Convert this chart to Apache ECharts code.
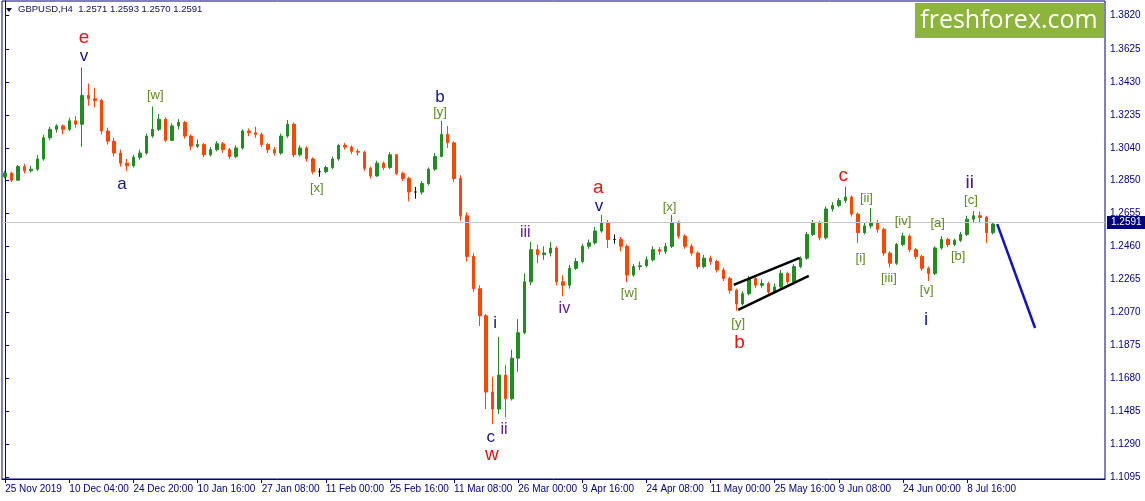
<!DOCTYPE html>
<html><head><meta charset="utf-8">
<script src="https://cdn.jsdelivr.net/npm/echarts@6/dist/echarts.min.js"></script>
<style>html,body{margin:0;padding:0;background:#fff}#c{width:1145px;height:501px}</style>
</head><body><div id="c"></div>
<script>
// ---- data ----
const xTickLabels = ['25 Nov 2019','10 Dec 04:00','24 Dec 20:00','10 Jan 16:00','27 Jan 08:00','11 Feb 00:00','25 Feb 16:00','11 Mar 08:00','26 Mar 00:00','9 Apr 16:00','24 Apr 08:00','11 May 00:00','25 May 16:00','9 Jun 08:00','24 Jun 00:00','8 Jul 16:00'];
const priceTicks = [1.1095,1.1290,1.1485,1.1680,1.1875,1.2070,1.2265,1.2460,1.2655,1.2850,1.3040,1.3235,1.3430,1.3625,1.3820];
const opens = [1.2870,1.2892,1.2850,1.2930,1.2905,1.2915,1.2975,1.3100,1.3150,1.3170,
1.3150,1.3200,1.3180,1.3350,1.3330,1.3320,1.3140,1.3080,1.3010,1.2950,
1.2935,1.2985,1.3010,1.3110,1.3150,1.3210,1.3085,1.3170,1.3190,1.3110,
1.3050,1.3060,1.3000,1.3030,1.3065,1.3030,1.2990,1.3040,1.3140,1.3130,
1.3120,1.3060,1.3030,1.3010,1.3110,1.3180,1.3000,1.3040,1.2975,1.2900,
1.2900,1.2925,1.2975,1.3055,1.3045,1.3020,1.3015,1.2920,1.2875,1.2950,
1.2925,1.3000,1.2890,1.2860,1.2780,1.2780,1.2830,1.2915,1.2990,1.3120,
1.3070,1.2860,1.2640,1.2400,1.2210,1.2050,1.1600,1.1500,1.1700,1.1560,
1.1800,1.1950,1.2250,1.2440,1.2410,1.2420,1.2450,1.2250,1.2230,1.2330,
1.2370,1.2460,1.2480,1.2550,1.2600,1.2500,1.2500,1.2460,1.2290,1.2340,
1.2345,1.2380,1.2440,1.2430,1.2460,1.2600,1.2520,1.2460,1.2420,1.2340,
1.2390,1.2370,1.2320,1.2270,1.2200,1.2120,1.2180,1.2270,1.2230,1.2240,
1.2190,1.2220,1.2300,1.2250,1.2340,1.2390,1.2530,1.2600,1.2510,1.2680,
1.2700,1.2730,1.2750,1.2650,1.2540,1.2580,1.2600,1.2560,1.2420,1.2360,
1.2470,1.2520,1.2440,1.2400,1.2330,1.2300,1.2450,1.2500,1.2470,1.2495,
1.2530,1.2620,1.2640,1.2630,1.2540];
const closes = [1.2892,1.2850,1.2930,1.2905,1.2915,1.2975,1.3100,1.3150,1.3170,1.3150,
1.3200,1.3180,1.3350,1.3330,1.3320,1.3140,1.3080,1.3010,1.2950,1.2935,
1.2985,1.3010,1.3110,1.3150,1.3210,1.3085,1.3170,1.3190,1.3110,1.3050,
1.3060,1.3000,1.3030,1.3065,1.3030,1.2990,1.3040,1.3140,1.3130,1.3120,
1.3060,1.3030,1.3010,1.3110,1.3180,1.3000,1.3040,1.2975,1.2900,1.2900,
1.2925,1.2975,1.3055,1.3045,1.3020,1.3015,1.2920,1.2875,1.2950,1.2925,
1.3000,1.2890,1.2860,1.2780,1.2780,1.2830,1.2915,1.2990,1.3120,1.3070,
1.2860,1.2640,1.2400,1.2210,1.2050,1.1600,1.1500,1.1700,1.1560,1.1800,
1.1950,1.2250,1.2440,1.2410,1.2420,1.2450,1.2250,1.2230,1.2330,1.2370,
1.2460,1.2480,1.2550,1.2600,1.2500,1.2500,1.2460,1.2290,1.2340,1.2345,
1.2380,1.2440,1.2430,1.2460,1.2600,1.2520,1.2460,1.2420,1.2340,1.2390,
1.2370,1.2320,1.2270,1.2200,1.2120,1.2180,1.2270,1.2230,1.2240,1.2190,
1.2220,1.2300,1.2250,1.2340,1.2390,1.2530,1.2600,1.2510,1.2680,1.2700,
1.2730,1.2750,1.2650,1.2540,1.2580,1.2600,1.2560,1.2420,1.2360,1.2470,
1.2520,1.2440,1.2400,1.2330,1.2300,1.2450,1.2500,1.2470,1.2495,1.2530,
1.2620,1.2640,1.2630,1.2540,1.2591];
const lows = [1.2860,1.2838,1.2845,1.2890,1.2895,1.2905,1.2965,1.3085,1.3130,1.3120,
1.3140,1.3160,1.3047,1.3290,1.3280,1.3120,1.3060,1.2990,1.2930,1.2905,
1.2925,1.2970,1.3000,1.3100,1.3140,1.3075,1.3080,1.3150,1.3095,1.3028,
1.3040,1.2985,1.2990,1.3020,1.3010,1.2975,1.2980,1.3030,1.3110,1.3100,
1.3045,1.3010,1.2995,1.3000,1.3100,1.2985,1.2990,1.2960,1.2885,1.2870,
1.2890,1.2915,1.2965,1.3030,1.3005,1.2995,1.2905,1.2860,1.2870,1.2910,
1.2915,1.2880,1.2845,1.2725,1.2740,1.2765,1.2820,1.2905,1.2985,1.3040,
1.2840,1.2610,1.2370,1.2190,1.1990,1.1500,1.1410,1.1470,1.1450,1.1550,
1.1720,1.1940,1.2230,1.2360,1.2380,1.2400,1.2230,1.2165,1.2210,1.2320,
1.2360,1.2445,1.2470,1.2540,1.2450,1.2475,1.2430,1.2250,1.2280,1.2320,
1.2335,1.2370,1.2410,1.2415,1.2450,1.2505,1.2445,1.2405,1.2325,1.2330,
1.2350,1.2305,1.2255,1.2180,1.2080,1.2110,1.2170,1.2215,1.2215,1.2170,
1.2180,1.2210,1.2235,1.2240,1.2330,1.2380,1.2520,1.2495,1.2500,1.2665,
1.2690,1.2715,1.2635,1.2480,1.2530,1.2565,1.2540,1.2405,1.2335,1.2350,
1.2460,1.2425,1.2385,1.2315,1.2255,1.2290,1.2440,1.2455,1.2460,1.2485,
1.2520,1.2600,1.2595,1.2480,1.2530];
const highs = [1.2905,1.2900,1.2940,1.2945,1.2935,1.2998,1.3118,1.3165,1.3180,1.3178,
1.3218,1.3228,1.3515,1.3420,1.3395,1.3330,1.3160,1.3100,1.3030,1.2975,
1.3000,1.3030,1.3125,1.3285,1.3240,1.3220,1.3185,1.3210,1.3200,1.3120,
1.3090,1.3070,1.3045,1.3080,1.3075,1.3040,1.3055,1.3150,1.3155,1.3165,
1.3130,1.3070,1.3045,1.3125,1.3205,1.3190,1.3055,1.3050,1.2985,1.2920,
1.2935,1.2990,1.3065,1.3070,1.3055,1.3035,1.3025,1.2930,1.2965,1.2960,
1.3015,1.3005,1.2900,1.2870,1.2810,1.2845,1.2925,1.3010,1.3200,1.3170,
1.3080,1.2880,1.2660,1.2420,1.2230,1.2060,1.1690,1.1925,1.1760,1.1850,
1.2030,1.2300,1.2485,1.2470,1.2460,1.2485,1.2460,1.2290,1.2350,1.2390,
1.2475,1.2500,1.2575,1.2645,1.2615,1.2530,1.2515,1.2470,1.2355,1.2370,
1.2400,1.2460,1.2455,1.2480,1.2645,1.2610,1.2530,1.2475,1.2430,1.2410,
1.2405,1.2380,1.2335,1.2280,1.2210,1.2195,1.2285,1.2285,1.2265,1.2250,
1.2240,1.2320,1.2310,1.2355,1.2400,1.2545,1.2615,1.2610,1.2695,1.2720,
1.2745,1.2812,1.2760,1.2660,1.2600,1.2686,1.2615,1.2570,1.2430,1.2480,
1.2540,1.2530,1.2450,1.2410,1.2340,1.2460,1.2520,1.2510,1.2505,1.2545,
1.2640,1.2668,1.2665,1.2640,1.2600];
const headerText = 'GBPUSD,H4  1.2571 1.2593 1.2570 1.2591';
const lastPrice = 1.2591;
const slotCount = 172;

// wave labels: text, x (bar index), price, kind
const waveText  = ['e','v','a','[w]','[x]','b','[y]','iii','i','c','ii','w','iv','a','v','[w]','[x]','[y]','b','c','[ii]','[i]','[iii]','[iv]','[a]','[b]','[v]','i','[c]','ii'];
const waveX     = [12.3,12.3,18.2,23.4,48.6,67.8,67.8,81.1,76.4,75.7,77.8,75.9,87.2,92.5,92.6,97.3,103.6,114.3,114.5,130.7,134.3,133.4,137.8,140.0,145.4,148.6,143.7,143.6,150.6,150.4];
const waveY     = [1.3688,1.3582,1.2827,1.3352,1.2804,1.3340,1.3252,1.2538,1.2007,1.1334,1.1376,1.1229,1.2090,1.2804,1.2698,1.2179,1.2692,1.2002,1.1890,1.2875,1.2745,1.2391,1.2273,1.2609,1.2597,1.2403,1.2202,1.2025,1.2733,1.2833];
const waveKind  = ['red','navy','navy','green','green','navy','green','purple','navy','navy','purple','red','purple','red','navy','green','green','green','red','red','green','green','green','green','green','green','green','navyBig','green','purpleBig'];

const wedgeUpper = [[113.6,1.2232],[123.9,1.2391]];
const wedgeLower = [[114.3,1.2085],[125.3,1.2285]];
const projection = [[154.7,1.2591],[160.6,1.1978]];

// ---- chart ----
const kindStyle = {
  red:{color:'#f01010',fontSize:19},
  navy:{color:'#14148c',fontSize:17},
  navyBig:{color:'#1a2a9a',fontSize:19},
  purple:{color:'#5a1aa0',fontSize:16},
  purpleBig:{color:'#45187e',fontSize:19},
  green:{color:'#5e8a1e',fontSize:13}
};
const candleData = opens.map((o,i)=>[o,closes[i],lows[i],highs[i]]);
const cats = Array.from({length:slotCount},(_,i)=>String(i));
const waveData = waveText.map((t,i)=>({
  value:[waveX[i],waveY[i]],
  label:{show:true,formatter:t,color:kindStyle[waveKind[i]].color,fontSize:kindStyle[waveKind[i]].fontSize}
}));
const navy = '#000080';
const tickShown = (i)=> i%10===0 && i/10 < xTickLabels.length;
const chart = echarts.init(document.getElementById('c'),null,{renderer:'canvas'});
chart.setOption({
  animation:false,
  backgroundColor:'#ffffff',
  textStyle:{fontFamily:'Liberation Sans'},
  grid:{left:2,right:40,top:1,bottom:22,show:true,borderColor:navy,borderWidth:1,backgroundColor:'#fff'},
  xAxis:[{
    type:'category',data:cats,boundaryGap:true,
    axisLine:{show:true,lineStyle:{color:navy,width:1}},
    axisTick:{show:true,alignWithLabel:true,length:4,interval:tickShown,lineStyle:{color:navy}},
    axisLabel:{show:true,interval:tickShown,
      formatter:(v)=>xTickLabels[Math.round(Number(v)/10)]||'',
      align:'left',margin:5,color:navy,fontSize:10,fontFamily:'Liberation Sans'},
    splitLine:{show:false}
  },{
    type:'value',min:-0.5,max:slotCount-0.5,show:false,gridIndex:0
  }],
  yAxis:[{
    type:'value',position:'right',min:1.1087,max:1.3907,
    axisLine:{show:true,lineStyle:{color:navy}},
    axisTick:{show:true,length:4,customValues:priceTicks,lineStyle:{color:navy}},
    axisLabel:{customValues:priceTicks,formatter:(v)=>v.toFixed(4),color:navy,fontSize:10,margin:5,fontFamily:'Liberation Sans'},
    splitLine:{show:false}
  }],
  series:[
    {type:'candlestick',xAxisIndex:0,yAxisIndex:0,data:candleData,barWidth:3,
     itemStyle:{color:'#228b22',color0:'#ff4500',borderColor:'#228b22',borderColor0:'#ff4500',borderColorDoji:'#111',borderWidth:1},
     markLine:{silent:true,symbol:['none','none'],animation:false,
       lineStyle:{color:'#c8c8c8',width:1,type:'solid'},
       label:{show:true,position:'end',distance:2,formatter:()=>lastPrice.toFixed(4),
         backgroundColor:navy,color:'#fff',fontSize:10,padding:[2,4,1,4],fontFamily:'Liberation Sans'},
       data:[{yAxis:lastPrice}]}},
    {type:'line',xAxisIndex:1,yAxisIndex:0,data:wedgeUpper,symbol:'none',lineStyle:{color:'#000',width:2.5},z:5},
    {type:'line',xAxisIndex:1,yAxisIndex:0,data:wedgeLower,symbol:'none',lineStyle:{color:'#000',width:2.5},z:5},
    {type:'line',xAxisIndex:1,yAxisIndex:0,data:projection,symbol:'none',lineStyle:{color:'#1010c8',width:2.5},z:5},
    {type:'scatter',xAxisIndex:1,yAxisIndex:0,data:waveData,symbol:'circle',symbolSize:0,
     itemStyle:{color:'transparent',opacity:1},
     label:{show:true,position:'inside',fontFamily:'Liberation Sans',textBorderWidth:0},z:6}
  ],
  graphic:[
    {type:'polygon',shape:{points:[[6,8],[12,8],[9,12]]},style:{fill:'#0a0a40'},z:10},
    {type:'text',left:18,top:4,style:{text:headerText,fill:'#10105a',font:'9.5px "Liberation Sans"'},z:10},
    {type:'group',right:41,top:3,z:10,children:[
      {type:'rect',shape:{x:0,y:0,width:189,height:35},style:{fill:'#8db53c'}},
      {type:'text',x:94,y:18,style:{text:'freshforex.com',fill:'#fff',font:'25px "Open Sans"',align:'center',verticalAlign:'middle'}}
    ]}
  ]
});
</script></body></html>
